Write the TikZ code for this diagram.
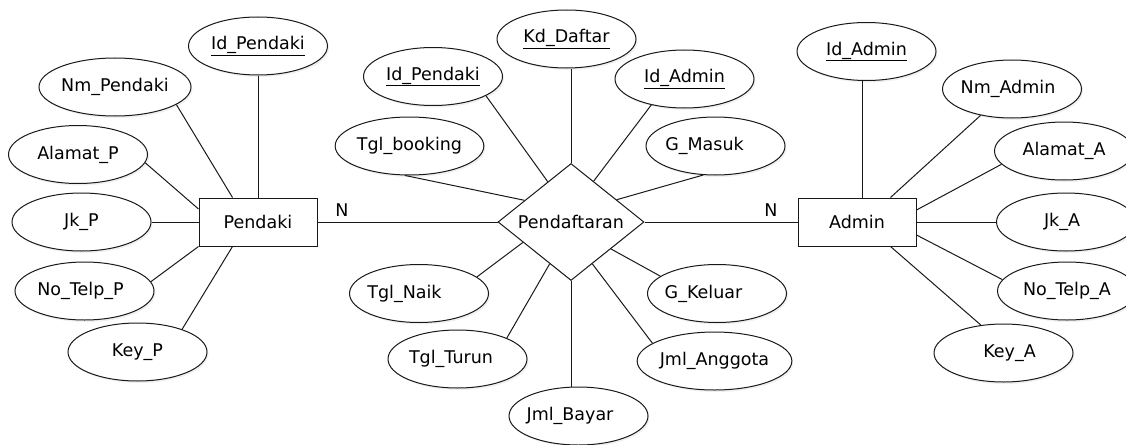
\documentclass[tikz,border=0pt]{standalone}
\usepackage{fontspec}
\setmainfont{DejaVu Sans}
\usetikzlibrary{shapes.geometric,shadows}
\begin{document}
\begin{tikzpicture}[x=1pt,y=-1pt,
  every node/.style={font=\fontsize{17.5}{20}\selectfont, text=black},
  attr/.style={ellipse, draw=black!90, line width=1pt, fill=white,
    minimum width=139pt, minimum height=58pt, inner sep=0pt,
    drop shadow={opacity=0.12, shadow xshift=1.5pt, shadow yshift=-2pt}},
  ent/.style={rectangle, draw=black!90, line width=1pt, fill=white,
    minimum width=118pt, minimum height=48pt, inner sep=0pt},
  rel/.style={diamond, aspect=1.25, draw=black!90, line width=1pt, fill=white,
    minimum width=146pt, minimum height=117pt, inner sep=0pt},
  link/.style={line width=1pt, draw=black!90},
  tl/.style={execute at begin node={\hspace*{-#1}}},
  tr/.style={execute at end node={\hspace*{-#1}}}]
\useasboundingbox (0,0) rectangle (1126,444);

% entities and relationship
\node[ent] (pendaki) at (258,222) {Pendaki};
\node[rel] (daftar) at (571,222) {Pendaftaran};
\node[ent] (admin) at (857,222) {Admin};

% Pendaki attributes
\node[attr] (idp) at (258,46) {\underline{Id\_Pendaki}};
\node[attr] (nmp) at (115,87) {Nm\_Pendaki};
\node[attr] (alp) at (78,154.5) {Alamat\_P};
\node[attr] (jkp) at (81.5,222) {Jk\_P};
\node[attr, tl=8pt] (ntp) at (84.5,291) {No\_Telp\_P};
\node[attr] (kyp) at (137.5,352) {Key\_P};

% Pendaftaran attributes
\node[attr] (idp2) at (433,76.5) {\underline{Id\_Pendaki}};
\node[attr] (kdd) at (566.5,39) {\underline{Kd\_Daftar}};
\node[attr] (ida2) at (684.5,79) {\underline{Id\_Admin}};
\node[attr] (tbk) at (409.5,146) {Tgl\_booking};
\node[attr, tl=22pt] (gms) at (715.5,146) {G\_Masuk};
\node[attr, tl=29pt] (tnk) at (419,293.5) {Tgl\_Naik};
\node[attr, tl=27pt] (gkl) at (717,293.5) {G\_Keluar};
\node[attr, tl=13pt] (ttr) at (457.5,359) {Tgl\_Turun};
\node[attr] (jag) at (714.5,361) {Jml\_Anggota};
\node[attr, tl=17pt] (jby) at (578.5,416) {Jml\_Bayar};

% Admin attributes
\node[attr] (ida) at (866.5,51.5) {\underline{Id\_Admin}};
\node[attr, tl=8pt] (nma) at (1012,89) {Nm\_Admin};
\node[attr] (ala) at (1064,151) {Alamat\_A};
\node[attr, tl=8pt] (jka) at (1066,222) {Jk\_A};
\node[attr] (nta) at (1067,291) {No\_Telp\_A};
\node[attr, tr=12pt] (kya) at (1003.5,353) {Key\_A};

% cardinalities
\node (n1) at (342,210) {N};
\node (n2) at (771,210) {N};

% relationship lines
\draw[link] (pendaki) -- (daftar);
\draw[link] (daftar) -- (admin);

% Pendaki links
\draw[link] (idp) -- (pendaki);
\draw[link] (nmp.-16) -- ([xshift=34pt]pendaki.north west);
\draw[link] (alp.-7) -- ([yshift=13pt]pendaki.west);
\draw[link] (jkp) -- (pendaki);
\draw[link] (ntp.8) -- (pendaki.south west);
\draw[link] (kyp.27) -- ([xshift=34pt]pendaki.south west);

% Pendaftaran links
\draw[link] (idp2.-20) -- (daftar.120);
\draw[link] (kdd.south -| daftar.north) -- (daftar.north);
\draw[link] (ida2.-142) -- (daftar.61);
\draw[link] (tbk.-99) -- (daftar.155);
\draw[link] (gms.-113) -- (daftar.26);
\draw[link] (tnk.16) -- (daftar.-157);
\draw[link] (gkl.163) -- (daftar.-34);
\draw[link] (ttr.23) -- (daftar.-117);
\draw[link] (jag.164) -- (daftar.-63);
\draw[link] (daftar.south) -- (daftar.south |- jby.north);

% Admin links
\coordinate (atop) at ([xshift=5pt]admin.north);
\draw[link] (atop |- ida.south) -- (atop);
\draw[link] (nma.-140) -- ([xshift=-26pt]admin.north east);
\draw[link] (ala.-168) -- ([yshift=12pt]admin.east);
\draw[link] (jka) -- (admin);
\draw[link] (nta.170) -- ([yshift=-13pt]admin.east);
\draw[link] (kya.129) -- ([xshift=-26pt]admin.south east);
\end{tikzpicture}
\end{document}
